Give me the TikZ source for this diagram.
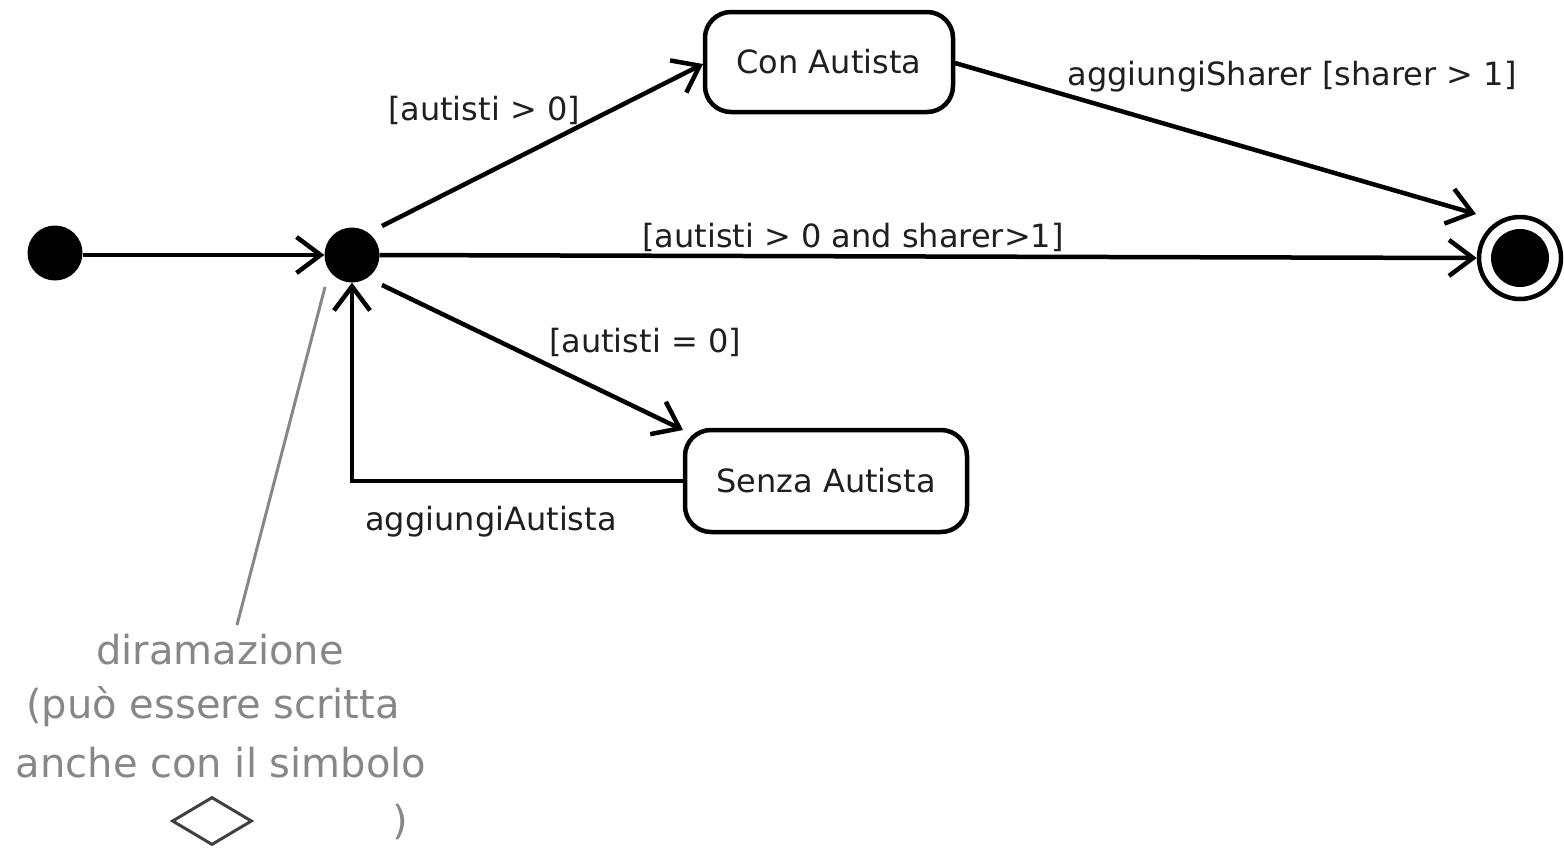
\documentclass[tikz,border=0pt]{standalone}
\usepackage{fontspec}
\setmainfont{DejaVu Sans}
\usetikzlibrary{arrows.meta,shapes.geometric}
\begin{document}
\begin{tikzpicture}[x=1pt,y=-1pt,
  every node/.style={inner sep=0pt},
  lbl/.style={font=\fontsize{32}{38}\selectfont, text=black!88},
  note/.style={font=\fontsize{40}{47}\selectfont, text=black!47},
  state/.style={draw, line width=4.5pt, rounded corners=26pt, fill=white,
    font=\fontsize{32}{38}\selectfont, text=black!88},
  flow/.style={line width=4.5pt, -{Straight Barb[length=24pt,width=36pt,line width=4.5pt]}},
  dot/.style={circle, fill=black, minimum size=55pt}]
\useasboundingbox (0,0) rectangle (1564,847);

% states and pseudo-states
\node[dot] (init) at (55,253) {};
\node[dot] (fork) at (352,255) {};
\node[state, minimum width=248pt, minimum height=100pt] (con) at (829,62) {Con Autista};
\node[state, minimum width=282pt, minimum height=102pt] (senza) at (826,481) {Senza Autista};
\node[circle, draw, line width=4.5pt, minimum size=82pt, fill=white] (final) at (1520,258) {};
\node[circle, fill=black, minimum size=58pt] at (final) {};

% transition end points that lie beside the nodes
\coordinate (forkup) at (382,226);
\coordinate (forkdown) at (382,285);
\coordinate (conin) at (703,64);
\coordinate (conout) at (955,63);
\coordinate (finalin) at (1476,214);
\coordinate (senzain) at (683,430);

% transitions
\draw[flow] (init.east |- fork) -- (fork.west);
\draw[flow] (forkup) -- (conin);
\draw[flow] (conout) -- (finalin);
\draw[flow] (fork.east) -- (final.west);
\draw[flow] (forkdown) -- (senzain);
\draw[flow] (senza.west) -| (fork.south);

% guards and events
\node[lbl] at (484,110) {[autisti > 0]};
\node[lbl] at (1292,77) {aggiungiSharer [sharer > 1]};
\node[lbl] at (853,237) {[autisti > 0 and sharer>1]};
\node[lbl] at (645,342) {[autisti = 0]};
\node[lbl] at (491,522) {aggiungiAutista};

% note on the branch
\coordinate (notestart) at (325,287);
\coordinate (noteend) at (237,625);
\draw[line width=3pt, black!47] (notestart) -- (noteend);
\node[note] at (220,650) {diramazione};
\node[note] at (213,707) {(può essere scritta};
\node[note] at (221,763) {anche con il simbolo};
\node[diamond, draw=black!75, line width=3pt, minimum width=80pt, minimum height=48pt] (sym) at (212,821) {};
\node[note] at (400,822) {)};
\end{tikzpicture}
\end{document}
